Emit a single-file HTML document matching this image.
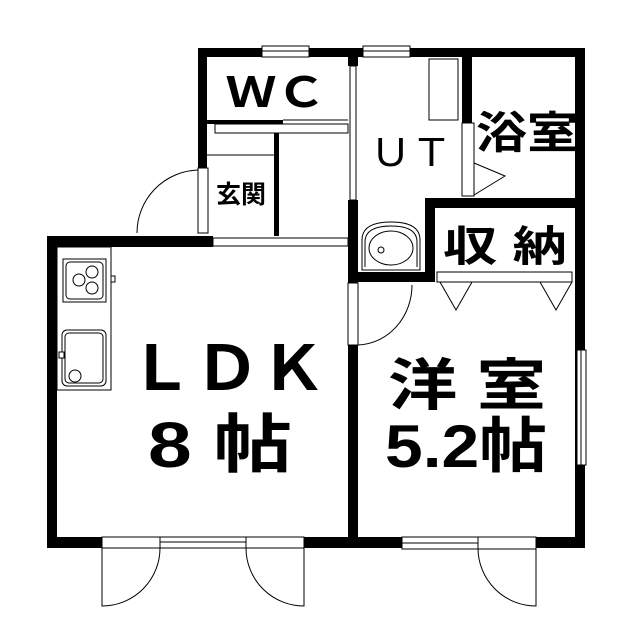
<!DOCTYPE html>
<html><head><meta charset="utf-8"><style>
html,body{margin:0;padding:0;background:#fff}
svg{display:block}
text{font-family:"Liberation Sans","Noto Sans CJK JP",sans-serif;fill:#000}
</style></head><body>
<svg width="639" height="640" viewBox="0 0 639 640" xmlns="http://www.w3.org/2000/svg">
<g fill="#000">
<!-- top wall -->
<rect x="198" y="48" width="387" height="9"/>
<!-- WC left wall -->
<rect x="198" y="48" width="9" height="120"/>
<!-- LDK top wall -->
<rect x="47" y="236" width="166" height="11"/>
<!-- LDK left wall -->
<rect x="47" y="236" width="10" height="312"/>
<!-- bottom wall -->
<rect x="47" y="537" width="538" height="11"/>
<!-- right wall -->
<rect x="575" y="48" width="10" height="500"/>
<!-- WC bottom thin wall -->
<rect x="207" y="120" width="76" height="4"/>
<!-- genkan right wall -->
<rect x="274" y="124" width="5" height="112"/>
<!-- UT left wall -->
<rect x="348" y="48" width="10" height="18"/>
<rect x="348" y="200" width="10" height="83"/>
<!-- middle wall -->
<rect x="348" y="345" width="10" height="203"/>
<!-- bath wall -->
<rect x="462" y="48" width="10" height="75"/>
<!-- storage top wall -->
<rect x="425" y="198" width="160" height="10"/>
<rect x="425" y="198" width="10" height="84"/>
<!-- UT bottom wall -->
<rect x="348" y="272" width="87" height="10"/>
</g>
<g fill="#fff" stroke="#000" stroke-width="1">
<!-- top windows -->
<rect x="262" y="46" width="47" height="11"/><line x1="262" y1="51" x2="309" y2="51"/>
<rect x="363" y="46" width="47" height="11"/><line x1="363" y1="51" x2="410" y2="51"/>
<!-- WC sliding -->
<rect x="215" y="124" width="133" height="9"/>
<line x1="283" y1="120" x2="348" y2="120"/>
<!-- UT sliding left -->
<rect x="350" y="66" width="6" height="134"/>
<!-- LDK top sliding -->
<rect x="213" y="238" width="135" height="8"/>
<!-- entrance door frame -->
<rect x="198" y="168" width="10" height="65"/>
<!-- bath door -->
<rect x="462" y="123" width="12" height="73"/>
<!-- tall cabinet in UT -->
<rect x="429" y="59" width="29" height="61"/>
<!-- storage panel -->
<rect x="437" y="272" width="135" height="10"/>
<!-- 洋室 door frame -->
<rect x="348" y="283" width="10" height="62"/>
<!-- right window -->
<rect x="577" y="350" width="9" height="115"/><line x1="581" y1="350" x2="581" y2="465"/>
<!-- bottom windows -->
<rect x="102" y="537" width="202" height="11"/>
<line x1="160" y1="537" x2="160" y2="548"/><line x1="246" y1="537" x2="246" y2="548"/>
<line x1="160" y1="542" x2="246" y2="542"/>
<rect x="402" y="537" width="134" height="12"/>
<line x1="478" y1="537" x2="478" y2="549"/><line x1="402" y1="543" x2="478" y2="543"/>
<!-- kitchen counter -->
<rect x="57" y="247" width="54" height="143"/>
<rect x="63" y="259" width="43" height="43"/>
<rect x="66" y="262" width="37" height="37" rx="4"/>
<circle cx="79" cy="280" r="6"/><circle cx="92" cy="272" r="6"/><circle cx="92" cy="288" r="6"/>
<rect x="111" y="276" width="4" height="6"/>
<rect x="62" y="330" width="44" height="56" rx="5"/>
<rect x="65" y="333" width="38" height="50" rx="4"/>
<circle cx="75" cy="376" r="6"/>
<rect x="59" y="352" width="5" height="6"/>
<!-- washbasin -->
<path d="M362 270 V240 Q362 222 391 222 Q420 222 420 240 V270 Z"/>
<path d="M365 267 V242 Q365 226 391 226 Q417 226 417 242 V267"/>
<ellipse cx="391" cy="248" rx="22" ry="17"/>
<circle cx="381" cy="250" r="3"/>
</g>
<g fill="none" stroke="#000" stroke-width="1">
<!-- entrance door arc -->
<path d="M198 170 A63 63 0 0 0 137 233"/>
<!-- bath door triangle -->
<path d="M474 163 L505 176 L474 195"/>
<!-- storage folding doors -->
<path d="M440 282 L456 310 L472 282"/>
<path d="M540 282 L556 310 L572 282"/>
<!-- 洋室 door arc -->
<path d="M412 285 A56 60 0 0 1 358 345"/>
<!-- bottom doors -->
<path d="M102 548 V606 A58 58 0 0 0 160 548"/>
<path d="M304 548 V606 A58 58 0 0 1 246 548"/>
<path d="M536 548 V606 A58 58 0 0 1 478 548"/>
<!-- genkan step -->
<line x1="207" y1="155" x2="274" y2="155"/>
</g>
<text x="226" y="107" font-size="42" font-weight="bold" textLength="100" lengthAdjust="spacingAndGlyphs">ＷＣ</text>
<text x="370" y="166" font-size="38" textLength="82" lengthAdjust="spacingAndGlyphs">ＵＴ</text>
<text x="476" y="148" font-size="44" font-weight="bold" textLength="102" lengthAdjust="spacingAndGlyphs">浴室</text>
<text x="216" y="203" font-size="25" font-weight="bold">玄関</text>
<text x="443" y="261" font-size="42" font-weight="bold" textLength="124" lengthAdjust="spacingAndGlyphs">収 納</text>
<text x="128" y="390" font-size="62" font-weight="bold" textLength="198" lengthAdjust="spacingAndGlyphs">ＬＤＫ</text>
<text x="148" y="467" font-size="64" font-weight="bold" textLength="144" lengthAdjust="spacingAndGlyphs">8 帖</text>
<text x="388" y="405" font-size="56" font-weight="bold" textLength="158" lengthAdjust="spacingAndGlyphs">洋 室</text>
<text x="385" y="467" font-size="60" font-weight="bold" textLength="162" lengthAdjust="spacingAndGlyphs">5.2帖</text>
</svg>
</body></html>
